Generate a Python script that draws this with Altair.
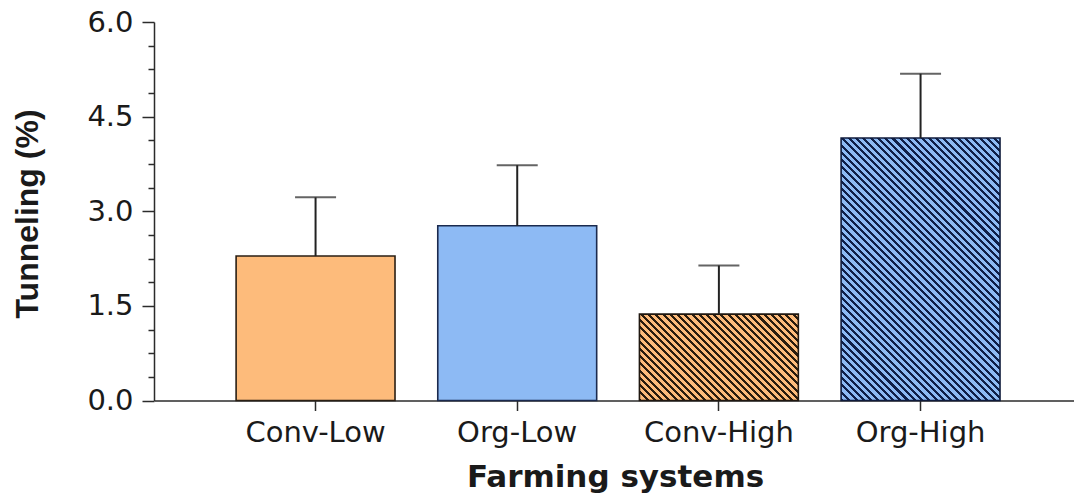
import math
import altair as alt
import pandas as pd

# Tunneling (%) by farming system: mean and upper error (SE)
systems = ["Conv-Low", "Org-Low", "Conv-High", "Org-High"]
means = [2.29, 2.77, 1.37, 4.16]
errors = [0.93, 0.96, 0.77, 1.02]

major_ticks = [0.0, 1.5, 3.0, 4.5, 6.0]
minor_ticks = [0.375, 0.75, 1.125, 1.875, 2.25, 2.625,
               3.375, 3.75, 4.125, 4.875, 5.25, 5.625]

ORANGE = "#FDBB7B"
BLUE = "#8DBAF4"
ORANGE_LINE = "#2a1c0e"
BLUE_LINE = "#0f1f48"
AXIS = "#2b2b2b"
TEXT = "#1a1a1a"

PLOT_W = 920
PLOT_H = 378.5
Y_MAX = 6.0
PAD_INNER = 0.212
PAD_OUTER = 0.387
ALIGN = 0.526

df = pd.DataFrame({
    "system": systems,
    "mean": means,
    "err": errors,
})
df["upper"] = df["mean"] + df["err"]

# band width of a bar, used to size the hatch gradient
step = PLOT_W / (len(systems) - PAD_INNER + 2 * PAD_OUTER)
bar_w = step * (1 - PAD_INNER)


def hatch(base, line, value, period=5.1, frac=0.42):
    """Diagonal (top-left to bottom-right) stripes as a hard-stop linear gradient."""
    w = bar_w
    h = value * PLOT_H / Y_MAX
    m = (w + h) / (w * w + h * h)
    n = max(1, round((w + h) / math.sqrt(2) / period))
    stops = []
    for i in range(n):
        a, b, c = i / n, (i + frac) / n, (i + 1) / n
        stops += [
            {"offset": a, "color": line},
            {"offset": b, "color": line},
            {"offset": b, "color": base},
            {"offset": c, "color": base},
        ]
    return {"gradient": "linear", "x1": 0, "y1": 1,
            "x2": m * w, "y2": 1 - m * h, "stops": stops}


x_scale = alt.Scale(domain=systems, paddingInner=PAD_INNER,
                    paddingOuter=PAD_OUTER, align=ALIGN)
y_scale = alt.Scale(domain=[0, Y_MAX], nice=False, zero=True)

x_axis = alt.Axis(
    title="Farming systems",
    orient="bottom",
    labelAngle=0,
    labelFont="DejaVu Sans", labelFontSize=29, labelColor=TEXT,
    labelBaseline="alphabetic", labelPadding=30.5,
    tickSize=10, tickWidth=1.5, tickColor=AXIS,
    domainColor=AXIS, domainWidth=1.5, grid=False,
    titleFont="DejaVu Sans", titleFontSize=31, titleFontWeight="bold",
    titleColor=TEXT, titleBaseline="alphabetic", titleAlign="center",
    titleX=461, titleY=85.5,
)
x_enc = alt.X("system:N", sort=systems, scale=x_scale, axis=x_axis)

y_axis = alt.Axis(
    title="Tunneling (%)",
    orient="left",
    values=major_ticks,
    format=".1f",
    labelFont="DejaVu Sans", labelFontSize=29, labelColor=TEXT,
    labelPadding=9,
    tickSize=12, tickWidth=1.5, tickColor=AXIS,
    domainColor=AXIS, domainWidth=1.5, grid=False,
    titleFont="Liberation Sans", titleFontSize=32, titleFontWeight="bold",
    titleColor=TEXT, titleAngle=270, titleAlign="center",
    titleBaseline="middle", titleX=-127, titleY=191.5,
)

y_minor_axis = alt.Axis(
    title=None, orient="left", values=minor_ticks, labels=False,
    domain=False, grid=False, tickSize=6, tickWidth=1.5, tickColor=AXIS,
)

base = alt.Chart(df)

solid = base.transform_filter(
    alt.FieldOneOfPredicate(field="system", oneOf=["Conv-Low", "Org-Low"])
).mark_bar(strokeWidth=1.6).encode(
    x=x_enc,
    y=alt.Y("mean:Q", scale=y_scale, axis=y_axis),
    fill=alt.Fill("system:N", scale=alt.Scale(domain=["Conv-Low", "Org-Low"],
                                              range=[ORANGE, BLUE]), legend=None),
    stroke=alt.Stroke("system:N", scale=alt.Scale(domain=["Conv-Low", "Org-Low"],
                                                  range=["#2a1f14", "#1b2a4e"]), legend=None),
)


def hatched_bar(name, base_col, line_col, stroke_col):
    value = means[systems.index(name)]
    return base.transform_filter(alt.datum.system == name).mark_bar(
        fill=hatch(base_col, line_col, value), stroke=stroke_col, strokeWidth=1.6
    ).encode(
        x=x_enc,
        y=alt.Y("mean:Q", scale=y_scale, axis=None),
    )


conv_high = hatched_bar("Conv-High", ORANGE, ORANGE_LINE, "#1f1710")
org_high = hatched_bar("Org-High", BLUE, BLUE_LINE, "#0f1b3c")

err_line = base.mark_rule(color="#222222", strokeWidth=2).encode(
    x=x_enc,
    y=alt.Y("mean:Q", scale=y_scale, axis=y_minor_axis),
    y2="upper:Q",
)

err_cap = base.mark_tick(color="#222222", thickness=2, size=41).encode(
    x=x_enc,
    y=alt.Y("upper:Q", scale=y_scale, axis=None),
)

chart = alt.layer(solid, conv_high, org_high, err_line, err_cap).resolve_axis(
    y="independent"
).properties(
    width=PLOT_W,
    height=PLOT_H,
    padding={"left": 154, "top": 22, "right": 0, "bottom": 97},
    autosize=alt.AutoSizeParams(type="none"),
    background="white",
).configure_view(stroke=None)

chart.save("out.html", embed_options={"renderer": "svg", "actions": False})
